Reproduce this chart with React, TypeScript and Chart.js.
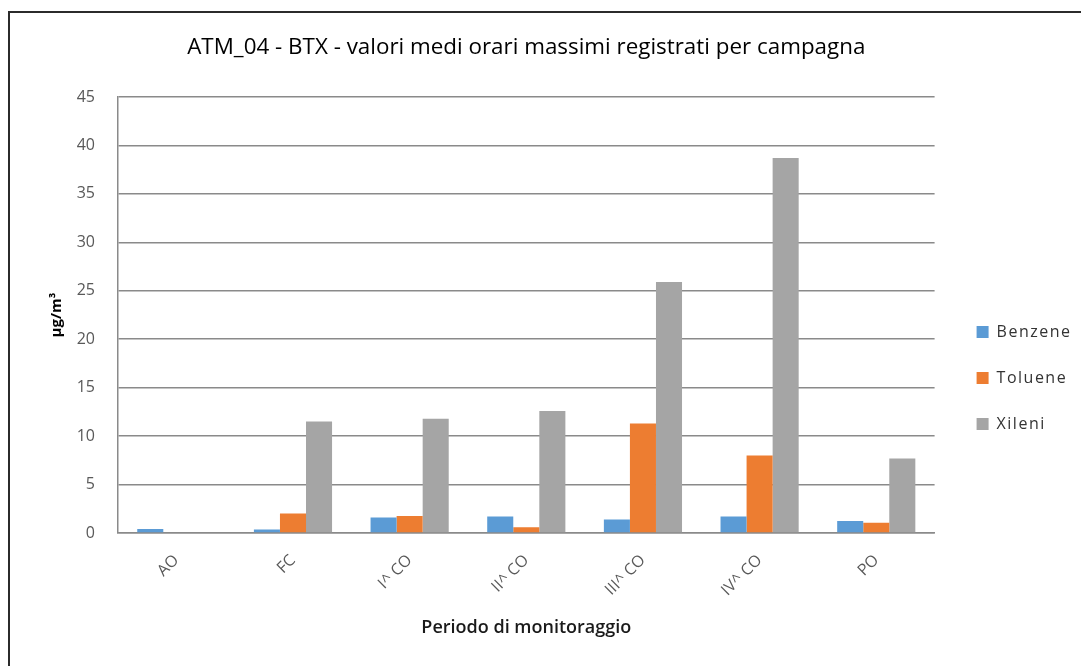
import React, { useEffect, useRef } from "react";
import { Chart, registerables } from "chart.js";

Chart.register(...registerables);

const categories = ["AO", "FC", "I^ CO", "II^ CO", "III^ CO", "IV^ CO", "PO"];
const benzene = [0.4, 0.35, 1.6, 1.7, 1.4, 1.7, 1.25];
const toluene = [0, 2.0, 1.75, 0.6, 11.3, 8.0, 1.06];
const xileni = [0, 11.5, 11.8, 12.6, 25.9, 38.7, 7.7];
const seriesNames = ["Benzene", "Toluene", "Xileni"];
const yTicks = [0, 5, 10, 15, 20, 25, 30, 35, 40, 45];
const titleText = "ATM_04 - BTX - valori medi orari massimi registrati per campagna";
const xTitle = "Periodo di monitoraggio";
const yTitle = "µg/m³";

const FONT = "'Open Sans', 'Noto Sans', sans-serif";

const framePlugin = {
  id: "frame",
  beforeDraw(chart: any) {
    const ctx = chart.ctx;
    ctx.save();
    ctx.fillStyle = "#ffffff";
    ctx.fillRect(0, 0, chart.width, chart.height);
    ctx.strokeStyle = "#2b2b2b";
    ctx.lineWidth = 2;
    ctx.beginPath();
    ctx.moveTo(9, chart.height + 10);
    ctx.lineTo(9, 12);
    ctx.lineTo(chart.width + 10, 12);
    ctx.stroke();
    ctx.restore();
    // letter-spaced legend text, as in the reference
    const lg = chart.legend;
    if (lg && !lg.__spaced) {
      const orig = lg.draw;
      lg.draw = function (area: any) {
        chart.ctx.save();
        (chart.ctx as any).letterSpacing = "1.5px";
        orig.call(lg, area);
        chart.ctx.restore();
      };
      lg.__spaced = true;
    }
  },
};

export default function App() {
  const ref = useRef<HTMLCanvasElement | null>(null);
  useEffect(() => {
    if (!ref.current) return;
    const chart = new Chart(ref.current, {
      type: "bar",
      data: {
        labels: categories,
        datasets: [
          { label: seriesNames[0], data: benzene, backgroundColor: "#5B9BD5", yAxisID: "y" },
          { label: seriesNames[1], data: toluene, backgroundColor: "#ED7D31", yAxisID: "y" },
          { label: seriesNames[2], data: xileni, backgroundColor: "#A5A5A5", yAxisID: "y" },
        ],
      },
      options: {
        animation: false,
        responsive: true,
        maintainAspectRatio: false,
        layout: { padding: { left: 0, right: 10, top: 0, bottom: 0 } },
        datasets: { bar: { categoryPercentage: 0.67, barPercentage: 1.0 } },
        plugins: {
          title: {
            display: true,
            fullSize: false,
            text: titleText,
            color: "#000000",
            font: { family: FONT, size: 22.4, weight: "normal" },
            padding: { top: 34.6, bottom: 35.5 },
          },
          legend: {
            position: "right",
            align: "start",
            title: { display: true, text: " ", font: { size: 10 }, padding: { top: 282, bottom: 0 } },
            labels: {
              boxWidth: 12,
              boxHeight: 12,
              padding: 30,
              color: "#333333",
              font: { family: FONT, size: 16 },
            },
          },
          tooltip: { enabled: false },
        },
        scales: {
          x: {
            grid: { display: false },
            border: { display: true, color: "#8a8a8a", width: 1.5 },
            ticks: {
              minRotation: 45,
              maxRotation: 45,
              padding: 10,
              color: "#595959",
              font: { family: FONT, size: 16 },
            },
            title: {
              display: true,
              text: xTitle,
              color: "#1a1a1a",
              font: { family: FONT, size: 18, weight: "600" },
              padding: { top: 4, bottom: 27 },
            },
            afterFit: (s: any) => {
              s.height = 133;
            },
          },
          y: {
            min: 0,
            max: 45,
            afterBuildTicks: (s: any) => {
              s.ticks = yTicks.map((v) => ({ value: v }));
            },
            grid: { color: "#8a8a8a", lineWidth: 1.5, drawTicks: false },
            border: { display: true, color: "#8a8a8a", width: 1.5 },
            ticks: {
              padding: 23,
              color: "#595959",
              font: { family: FONT, size: 16 },
            },
            title: {
              display: true,
              text: yTitle,
              color: "#000000",
              font: { family: FONT, size: 15, weight: "bold" },
              padding: { top: 48, bottom: 0 },
            },
            afterFit: (s: any) => {
              s.width = 118;
            },
          },
          yR: {
            type: "linear",
            position: "right",
            display: true,
            grid: { display: false, drawOnChartArea: false },
            border: { display: false },
            ticks: { display: false },
            afterFit: (s: any) => {
              s.width = 12;
            },
          },
        },
      },
      plugins: [framePlugin],
    } as any);
    return () => chart.destroy();
  }, []);
  return (
    <div style={{ position: "absolute", left: 0, top: 0, width: 1081, height: 666 }}>
      <canvas ref={ref} />
    </div>
  );
}
